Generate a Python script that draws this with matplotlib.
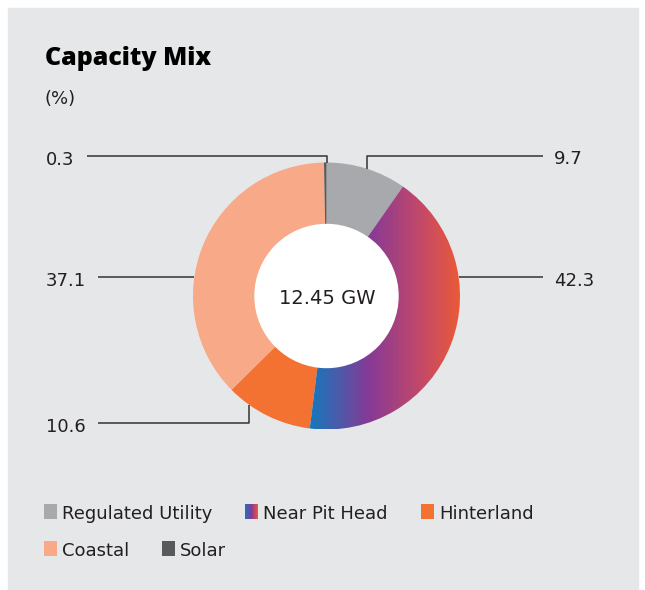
import numpy as np
import matplotlib
matplotlib.use('Agg')
import matplotlib.pyplot as plt
from matplotlib.patches import Rectangle, Circle
from matplotlib.colors import LinearSegmentedColormap

# ------------------------------------------------------------------ #
# Data                                                                 #
# ------------------------------------------------------------------ #
categories = ['Regulated Utility', 'Near Pit Head', 'Hinterland', 'Coastal', 'Solar']
shares = [9.7, 42.3, 10.6, 37.1, 0.3]
value_labels = ['9.7', '42.3', '10.6', '37.1', '0.3']
total_label = '12.45 GW'

colors = ['#A7A9AC', '#863A96', '#F37232', '#F8A987', '#58595B']
grad_cmap = LinearSegmentedColormap.from_list(
    'pithead', [(0.0, '#1B75BB'), (0.45, '#1B75BB'), (0.66, '#863A96'),
                (0.85, '#C2486A'), (1.0, '#EA5A38')])

TXT = '#231F20'
plt.rcParams['font.family'] = ['DejaVu Sans']
TITLE_FONT = ['Open Sans', 'DejaVu Sans']

W, H = 645, 590
fig = plt.figure(figsize=(W / 100, H / 100), dpi=100, facecolor='white')
ax = fig.add_axes([0, 0, 1, 1])

# panel
ax.add_patch(Rectangle((8, 8), 630, 590, color='#E6E7E8', zorder=0))

cx, cy, r_out, r_in = 326.5, 296, 133.5, 71.5
wedges, _ = ax.pie(shares, colors=colors, startangle=-90, counterclock=True,
                   radius=r_out, center=(cx, cy),
                   wedgeprops=dict(width=r_out - r_in, linewidth=0))

# gradient fill for Near Pit Head
grad = np.linspace(0, 1, 256).reshape(1, -1)
pit = wedges[1]
pit.set_facecolor('none')
im = ax.imshow(grad, cmap=grad_cmap, aspect='auto', interpolation='bilinear',
               extent=[cx - r_out, cx + r_out, cy + r_out, cy - r_out], zorder=1)
im.set_clip_path(pit)

ax.add_patch(Circle((cx, cy), r_in, color='white', zorder=3))
ax.text(cx + 1, 304, total_label, ha='center', va='baseline', fontsize=14,
        color=TXT, zorder=4)

# leader lines and value labels
lc = dict(color='#333333', lw=1.1, zorder=2, solid_capstyle='butt')
ax.plot([367, 367, 543], [169, 156, 156], **lc)
ax.plot([459, 543], [277, 277], **lc)
ax.plot([87, 327, 327], [156, 156, 163], **lc)
ax.plot([98, 194], [277, 277], **lc)
ax.plot([98, 249, 249], [423, 423, 405], **lc)

lab_pos = {'9.7': (554, 164), '42.3': (554, 286), '10.6': (46, 432),
           '37.1': (46, 286), '0.3': (46, 165)}
for lab in value_labels:
    x, y = lab_pos[lab]
    ax.text(x, y, lab, ha='left', va='baseline', fontsize=13, color=TXT)

# title
ax.text(45, 65, 'Capacity Mix', ha='left', va='baseline', fontsize=18,
        fontweight='heavy', family=TITLE_FONT, color='black')
ax.text(45, 104, '(%)', ha='left', va='baseline', fontsize=13, color=TXT)

# legend
leg_pos = [(44, 519), (245, 519), (421, 519), (44, 556), (162, 556)]
for i, (name, (x, y)) in enumerate(zip(categories, leg_pos)):
    if i == 1:
        ax.imshow(grad, cmap=LinearSegmentedColormap.from_list(
            'lg', ['#1B75BB', '#863A96', '#EA5A38']), aspect='auto',
            extent=[x, x + 13, y, y - 15], zorder=2)
    else:
        ax.add_patch(Rectangle((x, y - 15), 13, 15, color=colors[i], lw=0, zorder=2))
    ax.text(x + 18, y, name, ha='left', va='baseline', fontsize=13, color=TXT)

ax.set_xlim(0, W)
ax.set_ylim(H, 0)
ax.set_aspect('auto')
ax.axis('off')

fig.savefig('out.png', dpi=100, facecolor='white')
